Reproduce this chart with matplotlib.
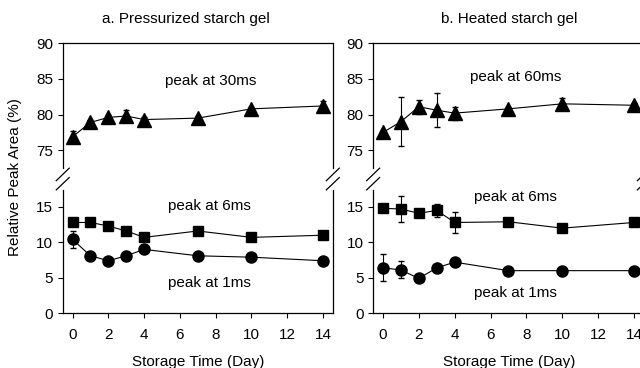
import matplotlib
matplotlib.use('Agg')
import matplotlib.pyplot as plt

plt.rcParams['font.family'] = ['Liberation Sans', 'DejaVu Sans']
plt.rcParams['font.size'] = 11

days = [0, 1, 2, 3, 4, 7, 10, 14]

# panel a: pressurized starch gel
a_30ms = [76.9, 78.9, 79.6, 79.8, 79.3, 79.5, 80.8, 81.2]
a_30ms_err = [0.8, 0.3, 0.3, 0.8, 0.3, 0.3, 0.3, 0.7]
a_6ms = [12.8, 12.8, 12.3, 11.6, 10.7, 11.6, 10.7, 11.0]
a_6ms_err = [0.3, 0.3, 0.3, 0.3, 0.3, 0.3, 0.3, 0.3]
a_1ms = [10.4, 8.1, 7.4, 8.1, 9.0, 8.1, 7.9, 7.4]
a_1ms_err = [1.2, 0.3, 0.3, 0.3, 0.3, 0.3, 0.3, 0.3]

# panel b: heated starch gel
b_60ms = [77.5, 79.0, 81.1, 80.6, 80.2, 80.8, 81.5, 81.3]
b_60ms_err = [0.3, 3.4, 1.0, 2.4, 0.9, 0.3, 0.8, 0.3]
b_6ms = [14.8, 14.7, 14.1, 14.5, 12.8, 12.9, 12.0, 12.8]
b_6ms_err = [0.3, 1.8, 0.3, 0.9, 1.5, 0.3, 0.3, 0.3]
b_1ms = [6.4, 6.1, 4.9, 6.4, 7.2, 6.0, 6.0, 6.0]
b_1ms_err = [1.9, 1.2, 0.3, 0.3, 0.3, 0.3, 0.3, 0.3]

titles = ['a. Pressurized starch gel', 'b. Heated starch gel']
top_labels = ['peak at 30ms', 'peak at 60ms']

fig = plt.figure(figsize=(6.4, 3.68), dpi=100)

panels = [
    (0.098, 0.422, a_30ms, a_30ms_err, a_6ms, a_6ms_err, a_1ms, a_1ms_err,
     (7.7, 84.7), (7.65, 15.1), (7.65, 4.3), 0.291, 0.309),
    (0.583, 0.423, b_60ms, b_60ms_err, b_6ms, b_6ms_err, b_1ms, b_1ms_err,
     (7.4, 85.3), (7.4, 16.4), (7.4, 2.8), 0.795, 0.795),
]


def slash(ax, x, y, top):
    # little "/" break mark at the broken spine
    dx, dy = 0.024, 0.05
    if top:
        ax.plot([x - dx, x + dx], [y - 2 * dy, y], transform=ax.transAxes,
                color='k', lw=0.9, clip_on=False)
    else:
        ax.plot([x - dx, x + dx], [y, y + 2 * dy], transform=ax.transAxes,
                color='k', lw=0.9, clip_on=False)


for i, (left, width, top_y, top_e, sq_y, sq_e, ci_y, ci_e,
        t_pos, s_pos, c_pos, title_x, xlab_x) in enumerate(panels):
    ax1 = fig.add_axes([left, 0.543, width, 0.340])
    ax2 = fig.add_axes([left, 0.149, width, 0.335])

    ax1.errorbar(days, top_y, yerr=top_e, fmt='-^', color='k', ms=9.5,
                 lw=0.8, elinewidth=0.8, capsize=2.5)
    ax2.errorbar(days, sq_y, yerr=sq_e, fmt='-s', color='k', ms=7.5,
                 lw=0.8, elinewidth=0.8, capsize=2.5)
    ax2.errorbar(days, ci_y, yerr=ci_e, fmt='-o', color='k', ms=8,
                 lw=0.8, elinewidth=0.8, capsize=2.5)

    for ax in (ax1, ax2):
        ax.set_xlim(-0.55, 14.55)
        for s in ax.spines.values():
            s.set_linewidth(0.9)
        ax.tick_params(direction='out', length=3.5, width=0.8, labelsize=11)

    ax1.set_ylim(72.5, 90)
    ax1.set_yticks([75, 80, 85, 90])
    ax1.spines['bottom'].set_visible(False)
    ax1.tick_params(axis='x', bottom=False, labelbottom=False)

    ax2.set_ylim(0, 17.4)
    ax2.set_yticks([0, 5, 10, 15])
    ax2.set_xticks(range(0, 15, 2))
    ax2.spines['top'].set_visible(False)
    ax2.tick_params(axis='x', pad=7)

    for x in (0, 1):
        slash(ax1, x, 0.0, True)
        slash(ax2, x, 1.0, False)

    ax1.text(t_pos[0], t_pos[1], top_labels[i], ha='center', va='center', fontsize=11)
    ax2.text(s_pos[0], s_pos[1], 'peak at 6ms', ha='center', va='center', fontsize=11)
    ax2.text(c_pos[0], c_pos[1], 'peak at 1ms', ha='center', va='center', fontsize=11)

    fig.text(title_x, 0.948, titles[i], ha='center', va='center', fontsize=11)
    fig.text(xlab_x, 0.017, 'Storage Time (Day)', ha='center', va='center', fontsize=11)

fig.text(0.023, 0.519, 'Relative Peak Area (%)', rotation=90, ha='center',
         va='center', fontsize=11)

plt.savefig('out.png', dpi=100)
